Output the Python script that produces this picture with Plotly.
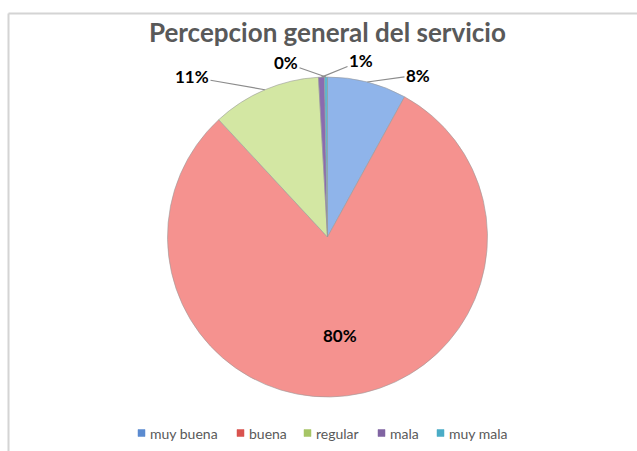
import math
import plotly.graph_objects as go

# ---- data ----
categories = ["muy buena", "buena", "regular", "mala", "muy mala"]
values = [8.0, 80.1, 11.0, 0.6, 0.3]
colors = ["#8FB4EA", "#F5928F", "#D3E7A3", "#8A6BB0", "#5BB8D0"]
legend_colors = ["#5B8BD0", "#D9534F", "#A6C566", "#8064A2", "#4BACC6"]
title_text = "Percepcion general del servicio"

W, H = 637, 451
CX, CY, R = 327.5, 237.0, 160.0  # pie centre / radius in pixels
FONT = "Lato, Open Sans, sans-serif"

total = sum(values)
pct_labels = [f"{round(v / total * 100)}%" for v in values]

fig = go.Figure()
fig.add_trace(go.Pie(
    labels=categories,
    values=values,
    sort=False,
    direction="clockwise",
    rotation=0,
    marker=dict(colors=colors, line=dict(color="#9a9a9a", width=0.6)),
    textinfo="none",
    hoverinfo="label+percent",
    showlegend=False,
    domain=dict(x=[(CX - R) / W, (CX + R) / W],
                y=[(H - CY - R) / H, (H - CY + R) / H]),
))

# label placement (pixel position of each outside label)
label_pos = {
    "muy buena": (418, 75),
    "buena": None,          # inside
    "regular": (192, 77),
    "mala": (361, 61),
    "muy mala": (286, 63),
}

annotations = []
cum = 0.0
for cat, v, txt in zip(categories, values, pct_labels):
    mid = (cum + v / 2) / total
    cum += v
    ang = 2 * math.pi * mid
    if label_pos[cat] is None:
        px = CX + 0.62 * R * math.sin(ang)
        py = CY - 0.62 * R * math.cos(ang)
        annotations.append(dict(
            x=px / W, y=1 - py / H, xref="paper", yref="paper",
            xanchor="center", yanchor="middle",
            text=f"<b>{txt}</b>", showarrow=False,
            font=dict(family=FONT, size=17, color="#000000")))
        continue
    ex = CX + 1.0 * R * math.sin(ang)
    ey = CY - 1.0 * R * math.cos(ang)
    lx, ly = label_pos[cat]
    annotations.append(dict(
        x=ex / W, y=1 - ey / H, xref="paper", yref="paper",
        ax=lx - ex, ay=ly - ey, axref="pixel", ayref="pixel",
        text=f"<b>{txt}</b>", showarrow=True, arrowhead=0, arrowwidth=1.2,
        arrowcolor="#8c8c8c", standoff=0, startstandoff=0,
        font=dict(family=FONT, size=17, color="#000000")))

# custom legend (Excel-like compact layout)
legend_left = [138, 237, 304, 378, 437]
legend_y = 433
shapes = [
    dict(type="line", xref="paper", yref="paper", x0=8.5 / W, x1=8.5 / W,
         y0=0, y1=1 - 13.5 / H, line=dict(color="#d4d4d4", width=2)),
    dict(type="line", xref="paper", yref="paper", x0=8.5 / W, x1=1,
         y0=1 - 13.5 / H, y1=1 - 13.5 / H, line=dict(color="#d4d4d4", width=2)),
]
for cat, lc, lx in zip(categories, legend_colors, legend_left):
    shapes.append(dict(type="rect", xref="paper", yref="paper",
                       x0=lx / W, x1=(lx + 7) / W,
                       y0=1 - (legend_y + 3.5) / H, y1=1 - (legend_y - 3.5) / H,
                       fillcolor=lc, line=dict(color=lc, width=0.5)))
    annotations.append(dict(x=(lx + 10) / W, y=1 - legend_y / H, xref="paper", yref="paper",
                            xanchor="left", yanchor="middle", showarrow=False,
                            text=cat, font=dict(family=FONT, size=14, color="#595959")))

fig.update_layout(
    width=W, height=H,
    margin=dict(l=0, r=0, t=0, b=0),
    paper_bgcolor="white",
    plot_bgcolor="white",
    showlegend=False,
    title=dict(text=f"<b>{title_text}</b>", x=0.514, xanchor="center",
               y=1 - 33 / H, yanchor="middle",
               font=dict(family=FONT, size=26, color="#595959")),
    annotations=annotations,
    shapes=shapes,
)

fig.write_html("out.html", config={"displayModeBar": False},
               post_script="document.body.style.margin='0';")
